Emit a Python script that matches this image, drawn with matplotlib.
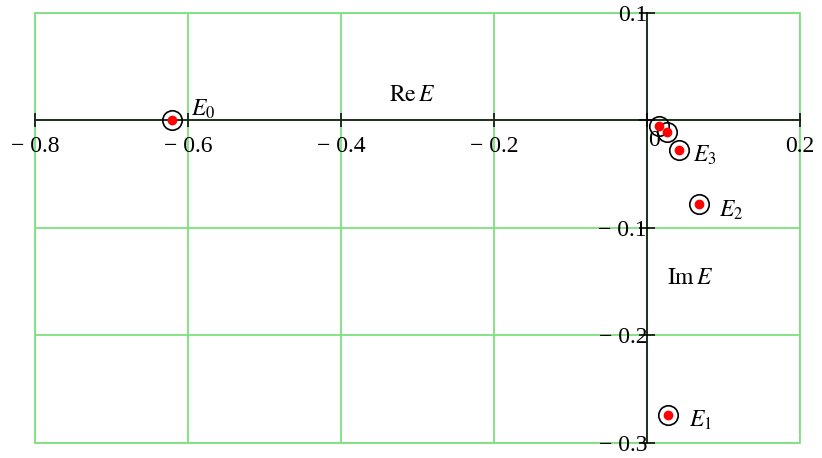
import matplotlib.pyplot as plt

# eigenvalues
re_E = [-0.621, 0.016, 0.026, 0.042, 0.068, 0.028]
im_E = [0.0, -0.005, -0.011, -0.027, -0.078, -0.274]
labels = [r'$E_0$', '', '', r'$E_3$', r'$E_2$', r'$E_1$']

x_ticks = [-0.8, -0.6, -0.4, -0.2, 0.0, 0.2]
x_ticklabels = ['\u2212 0.8', '\u2212 0.6', '\u2212 0.4', '\u2212 0.2', '', '0.2']
y_ticks = [-0.3, -0.2, -0.1, 0.0, 0.1]
y_ticklabels = ['\u2212 0.3', '\u2212 0.2', '\u2212 0.1', '', '0.1']

plt.rcParams['font.family'] = 'Liberation Serif'
plt.rcParams['mathtext.fontset'] = 'stix'

fig = plt.figure(figsize=(8.22, 4.58), dpi=100)
ax = fig.add_axes([0.0426, 0.0328, 0.9307, 0.9388])
ax.set_xlim(-0.8, 0.2)
ax.set_ylim(-0.3, 0.1)

# green grid and green frame, black axes crossing at the origin
ax.grid(True, color='#7de07d', linewidth=1.3)
ax.set_axisbelow(True)
ax.patch.set_edgecolor('#7de07d')
ax.patch.set_linewidth(1.3)
for side in ['top', 'right']:
    ax.spines[side].set_visible(False)
ax.spines['left'].set_position(('data', 0))
ax.spines['bottom'].set_position(('data', 0))
for side in ['left', 'bottom']:
    ax.spines[side].set_linewidth(1.1)
    ax.spines[side].set_zorder(3)

ax.set_xticks(x_ticks)
ax.set_xticklabels(x_ticklabels)
ax.set_yticks(y_ticks)
ax.set_yticklabels(y_ticklabels)
ax.tick_params(axis='x', direction='inout', length=10, width=1.1, pad=6, labelsize=17)
ax.tick_params(axis='y', direction='inout', length=12, width=1.1, pad=-6, labelsize=17)
for lab in ax.get_yticklabels():
    lab.set_va('center_baseline')
ax.text(0.002, -0.009, '0', fontsize=17, ha='left', va='top')

# points: red dot inside black ring
ax.plot(re_E, im_E, 'o', ms=14, mfc='none', mec='black', mew=1.2, ls='none', zorder=4)
ax.plot(re_E, im_E, 'o', ms=6, color='red', ls='none', zorder=5)

offsets = {0: (14, 8), 3: (10, -4), 4: (14, -4), 5: (15, -4)}
for i, lab in enumerate(labels):
    if lab:
        dx, dy = offsets[i]
        ax.annotate(lab, (re_E[i], im_E[i]), xytext=(dx, dy), textcoords='offset points',
                    fontsize=17, ha='left', va='center')

ax.text(-0.307, 0.023, r'$\mathrm{Re}\,E$', fontsize=17, ha='center', va='center')
ax.text(0.056, -0.147, r'$\mathrm{Im}\,E$', fontsize=17, ha='center', va='center')

fig.savefig('out.png', dpi=100)
